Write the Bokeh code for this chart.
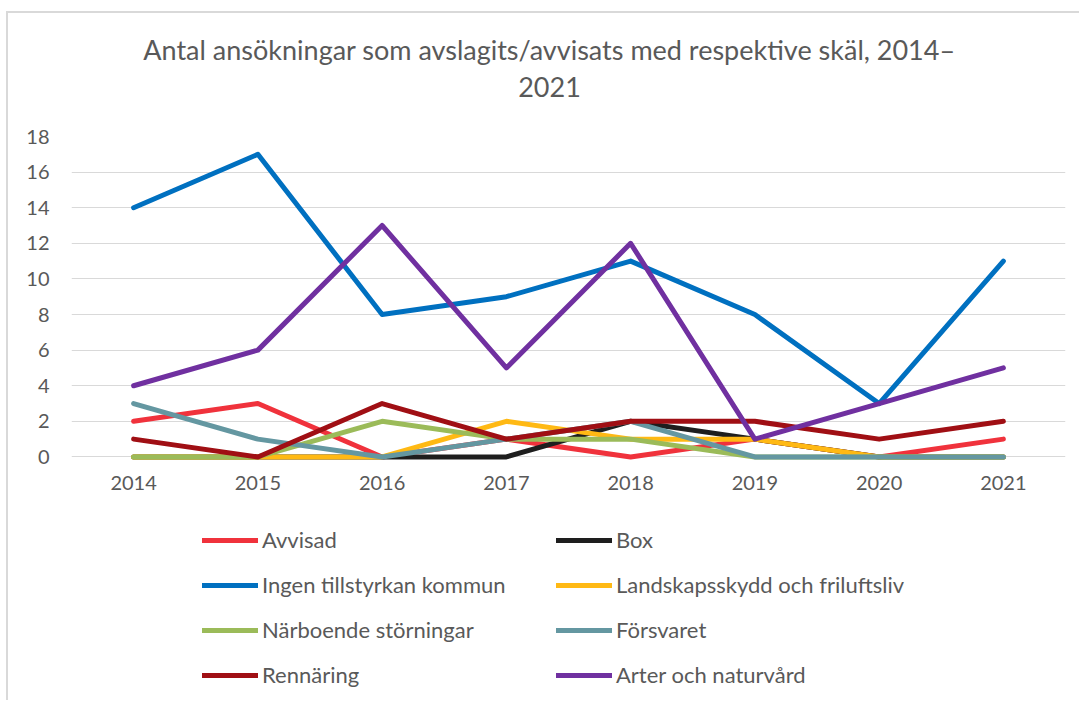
import numpy as np
from bokeh.plotting import figure
from bokeh.layouts import column
from bokeh.models import FactorRange, Range1d, FixedTicker, Label, Legend
from bokeh.embed import file_html
from bokeh.resources import INLINE

years = ["2014", "2015", "2016", "2017", "2018", "2019", "2020", "2021"]
avvisad = [2, 3, 0, 1, 0, 1, 0, 1]
box = [0, 0, 0, 0, 2, 1, 0, 0]
ingen = [14, 17, 8, 9, 11, 8, 3, 11]
landskap = [0, 0, 0, 2, 1, 1, 0, 0]
narboende = [0, 0, 2, 1, 1, 0, 0, 0]
forsvaret = [3, 1, 0, 1, 2, 0, 0, 0]
rennaring = [1, 0, 3, 1, 2, 2, 1, 2]
arter = [4, 6, 13, 5, 12, 1, 3, 5]

series_names = ["Avvisad", "Box", "Ingen tillstyrkan kommun", "Landskapsskydd och friluftsliv",
                "Närboende störningar", "Försvaret", "Rennäring", "Arter och naturvård"]
series_values = [avvisad, box, ingen, landskap, narboende, forsvaret, rennaring, arter]
colors = ["#F0323C", "#1E1E1E", "#0070C0", "#FFB914", "#9BBB59", "#6497A1", "#A00F14", "#7030A0"]
y_ticks = list(range(0, 20, 2))
title_lines = ["Antal ansökningar som avslagits/avvisats med respektive skäl, 2014–", "2021"]

FONT = "Lato"
TXT = "#595959"


def blank(height):
    f = figure(width=1071, height=height, output_backend="svg", toolbar_location=None,
               x_range=Range1d(0, 1), y_range=Range1d(0, 1),
               x_axis_location=None, y_axis_location=None,
               min_border_left=0, min_border_right=0, min_border_top=0, min_border_bottom=0)
    f.outline_line_color = None
    f.xgrid.visible = False
    f.ygrid.visible = False
    return f


# title panel
tf = blank(107)
for text, ypos in zip(title_lines, [71, 34]):
    tf.add_layout(Label(x=478, y=ypos, x_units="screen", y_units="screen", text=text,
                        text_align="center", text_baseline="alphabetic", text_font=FONT,
                        text_font_size="27px", text_color=TXT))

# main chart
p = figure(x_range=FactorRange(*years, range_padding=0), y_range=Range1d(-0.2, 18),
           width=1071, height=390, output_backend="svg", toolbar_location=None,
           min_border_left=63, min_border_right=14, min_border_top=16, min_border_bottom=50)
p.outline_line_color = None
p.xgrid.grid_line_color = None
p.ygrid.grid_line_color = "#D9D9D9"
p.ygrid.grid_line_width = 1
p.yaxis.ticker = FixedTicker(ticks=y_ticks)
for ax in (p.xaxis[0], p.yaxis[0]):
    ax.axis_line_color = None
    ax.major_tick_line_color = None
    ax.minor_tick_line_color = None
    ax.major_tick_out = 0
    ax.major_label_text_font = FONT
    ax.major_label_text_font_size = "20px"
    ax.major_label_text_color = TXT
p.yaxis.major_label_standoff = 22
p.xaxis.major_label_standoff = 15

for name, vals, c in zip(series_names, series_values, colors):
    p.line(years, vals, line_color=c, line_width=5, line_join="round", line_cap="round")

# legend panel
lg = blank(190)
items = []
for name, c in zip(series_names, colors):
    r = lg.line([np.nan], [np.nan], line_color=c, line_width=5, line_cap="round")
    items.append((name, [r]))
legend = Legend(items=items, location=(131, 12), orientation="horizontal", ncols=2,
                border_line_color=None, background_fill_alpha=0, padding=0, margin=0,
                glyph_width=56, glyph_height=26, label_height=26, label_standoff=4,
                label_width=276, spacing=18,
                label_text_font=FONT, label_text_font_size="22px", label_text_color=TXT)
lg.add_layout(legend, "center")

layout = column(tf, p, lg, spacing=0, margin=(11, 0, 0, 6),
                styles={"border-top": "2px solid #D9D9D9", "border-left": "2px solid #D9D9D9"})
open("out.html", "w").write(file_html(layout, INLINE))
